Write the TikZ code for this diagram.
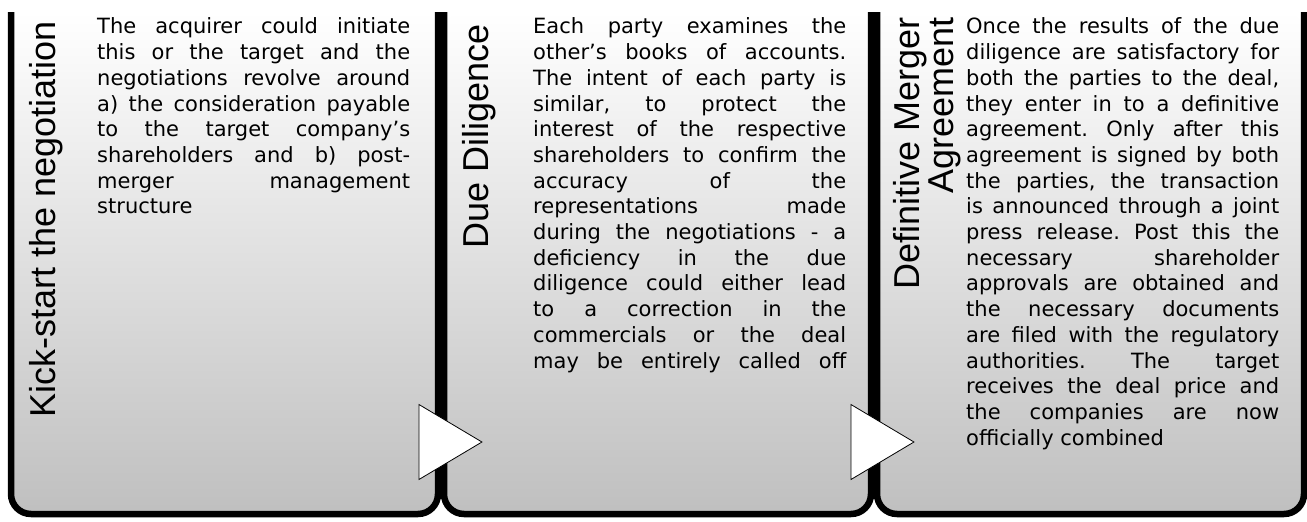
\documentclass[tikz,border=0pt]{standalone}
\usepackage{fontspec}
\newfontfamily\headfont{Liberation Sans}
\newfontfamily\bodyfont{DejaVu Sans}
\usepackage{tikz}
\usetikzlibrary{shapes.geometric, positioning}
\tikzstyle{stage} = [rectangle, rounded corners=20pt, minimum width=427pt, minimum height=502pt,
    inner sep=0pt, outer sep=0pt, top color=white, bottom color=gray!50]
\tikzstyle{rim} = [line width=6.5pt, rounded corners=20pt]
\tikzstyle{heading} = [rotate=90, anchor=base east, inner sep=0pt, align=right,
    font=\headfont\fontsize{36}{29}\selectfont]
\tikzstyle{body} = [anchor=base west, inner sep=0pt, text width=313pt, align=justify,
    font=\bodyfont\fontsize{21}{25.7}\selectfont\frenchspacing]
\tikzstyle{pointer} = [isosceles triangle, isosceles triangle stretches, minimum width=75pt,
    minimum height=63pt, inner sep=0pt, anchor=apex, draw=black, line width=0.8pt, fill=white]

\begin{document}
\begin{tikzpicture}[x=1pt, y=-1pt]
  \useasboundingbox (0,0) rectangle (1307,522);
  \node (kick)      [stage] at (224.5,263) {};
  \node (diligence) [stage, right=6pt of kick] {};
  \node (agreement) [stage, right=6pt of diligence] {};

  \draw[rim] (kick.north west) -- (kick.south west) -- (kick.south east) -- (kick.north east);
  \draw[rim] (diligence.north west) -- (diligence.south west) -- (diligence.south east) -- (diligence.north east);
  \draw[rim] (agreement.north west) -- (agreement.south west) -- (agreement.south east) -- (agreement.north east);

  \node (kickdil) [pointer] at ([xshift=39pt, yshift=72pt]diligence.south west) {};
  \node (dilagr)  [pointer] at ([xshift=38pt, yshift=72pt]agreement.south west) {};

  \node (kicktitle) [heading] at ([xshift=44pt, yshift=-9pt]kick.north west) {Kick-start the negotiation};
  \node (diltitle)  [heading] at ([xshift=44pt, yshift=-12pt]diligence.north west) {Due Diligence};
  \node (agrtitle)  [heading] at ([xshift=76pt, yshift=-5pt]agreement.north west) {Definitive Merger\\Agreement};

  \node (kicktext) [body] at ([xshift=86pt, yshift=-22pt]kick.north west) {The acquirer could initiate\linebreak this or the target and the\linebreak negotiations revolve around\linebreak a) the consideration payable\linebreak to the target company’s\linebreak shareholders and b) post-\linebreak merger management\linebreak structure};
  \node (diltext) [body] at ([xshift=89pt, yshift=-22pt]diligence.north west) {Each party examines the\linebreak other’s books of accounts.\linebreak The intent of each party is\linebreak similar, to protect the\linebreak interest of the respective\linebreak shareholders to confirm the\linebreak accuracy of the\linebreak representations made\linebreak during the negotiations - a\linebreak deficiency in the due\linebreak diligence could either lead\linebreak to a correction in the\linebreak commercials or the deal\linebreak \makebox[\linewidth][s]{may be entirely called off}};
  \node (agrtext) [body] at ([xshift=89pt, yshift=-22pt]agreement.north west) {Once the results of the due\linebreak diligence are satisfactory for\linebreak both the parties to the deal,\linebreak they enter in to a definitive\linebreak agreement. Only after this\linebreak agreement is signed by both\linebreak the parties, the transaction\linebreak is announced through a joint\linebreak press release. Post this the\linebreak necessary shareholder\linebreak approvals are obtained and\linebreak the necessary documents\linebreak are filed with the regulatory\linebreak authorities. The target\linebreak receives the deal price and\linebreak the companies are now\linebreak officially combined};
\end{tikzpicture}
\end{document}
